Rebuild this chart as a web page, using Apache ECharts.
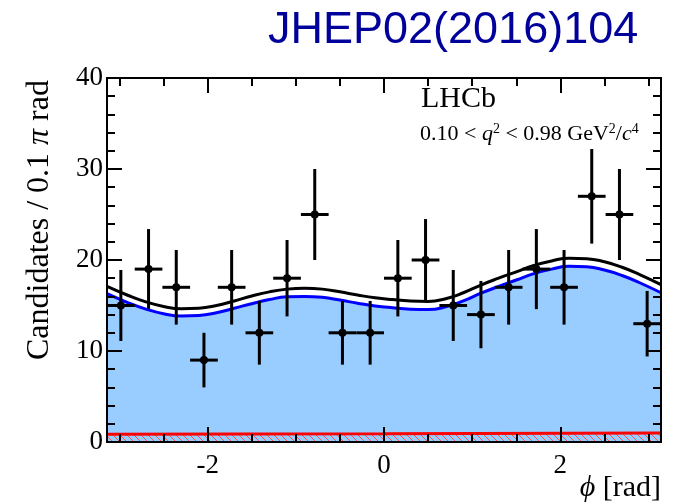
<!DOCTYPE html>
<html>
<head>
<meta charset="utf-8">
<script src="https://cdn.jsdelivr.net/npm/echarts@6/dist/echarts.min.js"></script>
<style>
html,body{margin:0;padding:0;background:#fff;}
#main{width:675px;height:504px;}
</style>
</head>
<body>
<div id="main"></div>
<script>
// histogram: 20 bins from -pi to pi
var counts = [15, 19, 17, 9, 17, 12, 18, 25, 12, 12, 18, 20, 15, 14, 17, 19, 17, 27, 25, 13];
var errs = [3.9, 4.4, 4.1, 3.0, 4.1, 3.5, 4.2, 5.0, 3.5, 3.5, 4.2, 4.5, 3.9, 3.7, 4.1, 4.4, 4.1, 5.2, 5.0, 3.6];

// fit curves
var curveX = [-3.1416, -2.9, -2.7, -2.5, -2.3, -2.1, -1.9, -1.7, -1.5, -1.3, -1.1, -0.9, -0.7, -0.5, -0.3, -0.1,
	0.1, 0.3, 0.5, 0.7, 0.9, 1.1, 1.3, 1.5, 1.7, 1.9, 2.1, 2.3, 2.5, 2.7, 2.9, 3.1416];
var sigCurve = [16.3, 15.3, 14.6, 14.1, 13.85, 13.9, 14.2, 14.7, 15.2, 15.65, 15.95, 16.0, 15.9, 15.6, 15.25, 14.95,
	14.75, 14.6, 14.55, 14.85, 15.5, 16.35, 17.1, 17.8, 18.5, 19.0, 19.3, 19.25, 18.9, 18.3, 17.5, 16.4];
var totCurve = [17.1, 16.1, 15.4, 14.9, 14.65, 14.7, 15.0, 15.5, 16.05, 16.5, 16.8, 16.9, 16.8, 16.5, 16.15, 15.85,
	15.65, 15.5, 15.45, 15.75, 16.4, 17.25, 18.0, 18.7, 19.4, 19.9, 20.2, 20.15, 19.8, 19.2, 18.4, 17.3];
var bkgX = [-3.1416, 0, 3.1416];
var bkgCurve = [0.85, 0.92, 1.0];

var xMajor = [-2, 0, 2];
var xMinor = [-3, -2.5, -1.5, -1, -0.5, 0.5, 1, 1.5, 2.5, 3];

var nBins = counts.length;
var binW = 2 * Math.PI / nBins;
var points = [];
for (var i = 0; i < nBins; i++) {
	points.push([-Math.PI + (i + 0.5) * binW, counts[i], errs[i]]);
}
function pairs(xs, ys) {
	var out = [];
	for (var i = 0; i < xs.length; i++) out.push([xs[i], ys[i]]);
	return out;
}

// red hatch for the background component
var hatch = document.createElement('canvas');
hatch.width = 7; hatch.height = 7;
var hc = hatch.getContext('2d');
hc.fillStyle = '#99ccff';
hc.fillRect(0, 0, 7, 7);
hc.strokeStyle = '#ff5050';
hc.lineWidth = 1;
hc.beginPath();
hc.moveTo(-1, -1); hc.lineTo(8, 8);
hc.stroke();

var serif = '"Liberation Serif", "DejaVu Serif", serif';

function xAx(pos, vals, len, labels) {
	return {
		type: 'value', position: pos, min: -Math.PI, max: Math.PI, z: 10,
		axisLine: {show: true, onZero: false, lineStyle: {color: '#000', width: 2}},
		axisTick: {show: true, inside: true, length: len, customValues: vals, lineStyle: {color: '#000', width: 2}},
		axisLabel: {show: labels, customValues: vals, margin: 10, color: '#000', fontFamily: serif, fontSize: 27},
		splitLine: {show: false}
	};
}
function yAx(pos, labels) {
	return {
		type: 'value', position: pos, min: 0, max: 40, interval: 10, z: 10,
		axisLine: {show: true, onZero: false, lineStyle: {color: '#000', width: 2}},
		axisTick: {show: true, inside: true, length: 15, lineStyle: {color: '#000', width: 2}},
		minorTick: {show: true, splitNumber: 5, length: 8, lineStyle: {color: '#000', width: 2}},
		axisLabel: {show: labels, margin: 4, color: '#000', fontFamily: serif, fontSize: 27},
		splitLine: {show: false}
	};
}

var myChart = echarts.init(document.getElementById('main'));
var option = {
	animation: false,
	grid: {left: 107, right: 14, top: 78, bottom: 62},
	xAxis: [xAx('bottom', xMajor, 15, true), xAx('bottom', xMinor, 8, false),
		xAx('top', xMajor, 15, false), xAx('top', xMinor, 8, false)],
	yAxis: [yAx('left', true), yAx('right', false)],
	series: [{
		name: 'signal',
		type: 'line',
		smooth: true,
		symbol: 'none',
		data: pairs(curveX, sigCurve),
		lineStyle: {color: '#0000ff', width: 3},
		areaStyle: {color: '#99ccff', opacity: 1},
		z: 1
	}, {
		name: 'background',
		type: 'line',
		symbol: 'none',
		data: pairs(bkgX, bkgCurve),
		lineStyle: {color: '#ff0000', width: 3},
		areaStyle: {color: {image: hatch, repeat: 'repeat'}, opacity: 1},
		z: 2
	}, {
		name: 'total',
		type: 'line',
		smooth: true,
		symbol: 'none',
		data: pairs(curveX, totCurve),
		lineStyle: {color: '#000', width: 3},
		z: 3
	}, {
		name: 'data',
		type: 'custom',
		data: points,
		z: 4,
		renderItem: function (params, api) {
			var x = api.value(0), y = api.value(1), e = api.value(2);
			var c = api.coord([x, y]);
			var lo = api.coord([x, y - e]);
			var hi = api.coord([x, y + e]);
			var l = api.coord([x - binW / 2, y]);
			var r = api.coord([x + binW / 2, y]);
			var st = {stroke: '#000', lineWidth: 3};
			return {
				type: 'group',
				children: [
					{type: 'line', shape: {x1: c[0], y1: lo[1], x2: c[0], y2: hi[1]}, style: st},
					{type: 'line', shape: {x1: l[0], y1: c[1], x2: r[0], y2: c[1]}, style: st},
					{type: 'circle', shape: {cx: c[0], cy: c[1], r: 4}, style: {fill: '#000'}}
				]
			};
		}
	}],
	graphic: [{
		type: 'text', left: 268, top: 8,
		style: {text: 'JHEP02(2016)104', font: '45px "Liberation Sans", Arial, sans-serif', fill: '#00009b'}
	}, {
		type: 'text', left: 421, top: 84,
		style: {text: 'LHCb', font: '30px ' + serif, fill: '#000'}
	}, {
		type: 'text', left: 420, top: 122,
		style: {
			text: '0.10 < {i|q}{s|2} < 0.98 GeV{s|2}/{i|c}{s|4}',
			font: '22px ' + serif, fill: '#000',
			rich: {
				i: {fontStyle: 'italic', fontFamily: serif, fontSize: 22},
				s: {fontFamily: serif, fontSize: 14, verticalAlign: 'top', lineHeight: 24}
			}
		}
	}, {
		type: 'text', x: 40, y: 220, rotation: Math.PI / 2,
		style: {
			text: 'Candidates / 0.1 {i|π} rad',
			font: '32px ' + serif, fill: '#000', align: 'center', verticalAlign: 'middle',
			rich: {i: {fontStyle: 'italic', fontFamily: serif, fontSize: 32}}
		}
	}, {
		type: 'text', right: 14, top: 473,
		style: {
			text: '{i|ϕ} [rad]',
			font: '30px ' + serif, fill: '#000',
			rich: {i: {fontStyle: 'italic', fontFamily: serif, fontSize: 30}}
		}
	}]
};
myChart.setOption(option);
</script>
</body>
</html>
